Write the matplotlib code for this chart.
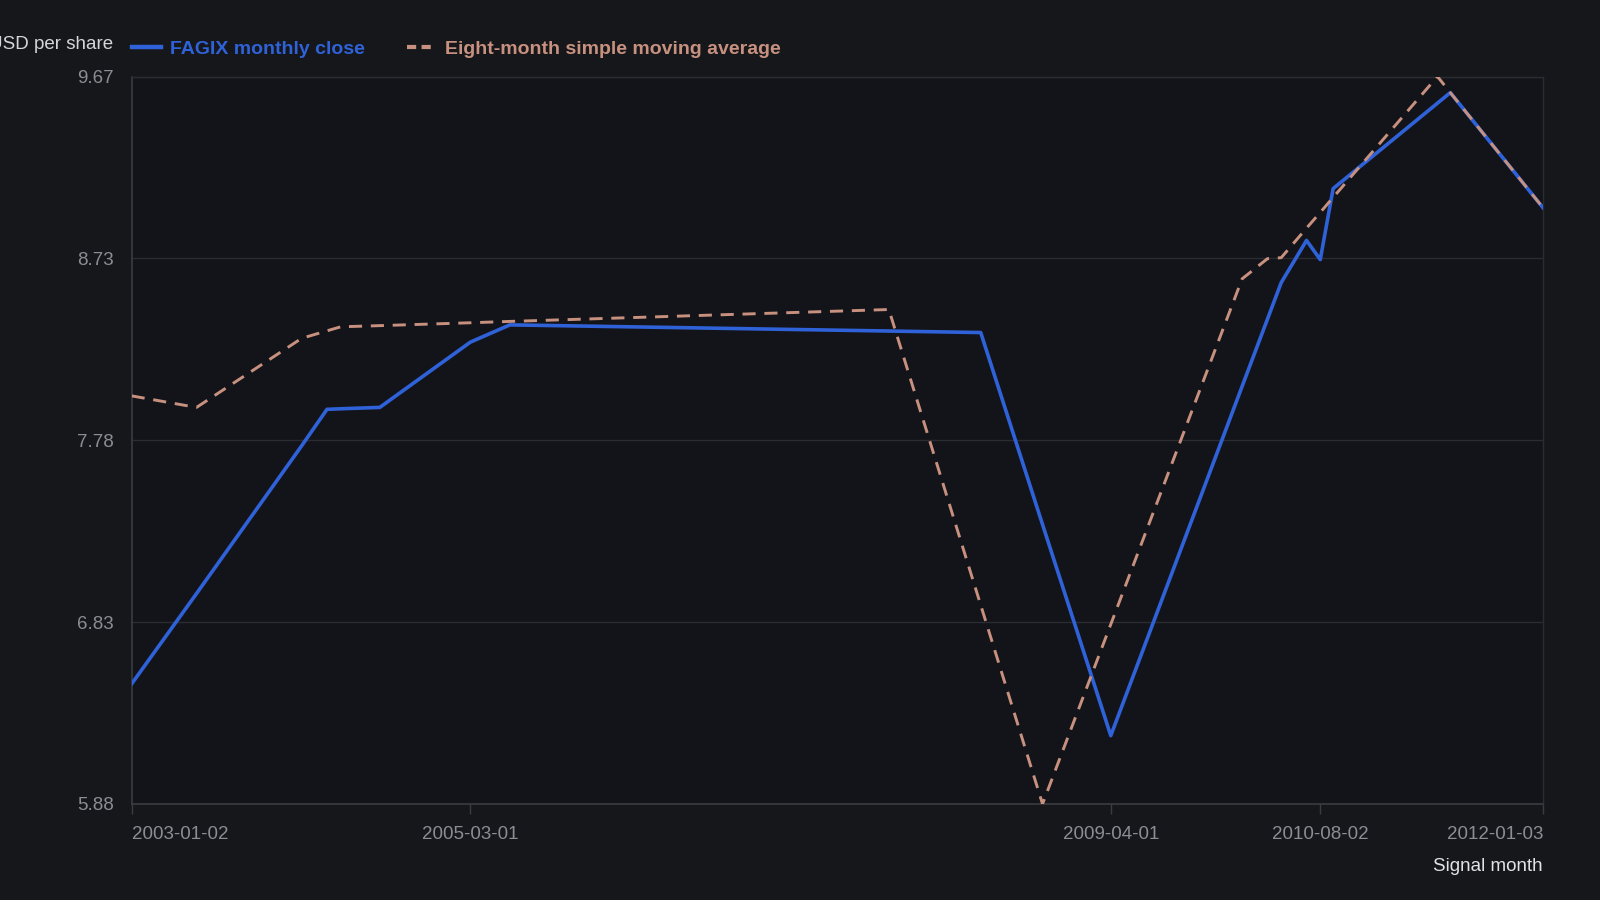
import matplotlib.pyplot as plt
import numpy as np
import pandas as pd

# values
dates = pd.to_datetime([
    "2003-01-02", "2003-06-02", "2004-02-02", "2004-04-01", "2004-05-03",
    "2004-08-02", "2005-03-01", "2005-06-01", "2007-11-01", "2008-06-02",
    "2008-10-24", "2009-04-01", "2010-02-01", "2010-04-01", "2010-05-03",
    "2010-07-01", "2010-08-02", "2010-09-01", "2011-05-02", "2011-06-01",
    "2012-01-03",
])
close = [6.51, 6.98, 7.75, 7.94, 7.943, 7.95, 8.29, 8.38, 8.348, 8.34,
         7.34, 6.24, 8.06, 8.41, 8.60, 8.82, 8.72, 9.09, 9.535, 9.59, 8.99]
sma8 = [8.01, 7.95, 8.31, 8.349, 8.37, 8.376, 8.391, 8.398, 8.46, 6.92,
        5.884, 6.82, 8.62, 8.725, 8.73, 8.884, 8.966, 9.044, 9.674, 9.59, 8.99]
tick_dates = pd.to_datetime(["2003-01-02", "2005-03-01", "2009-04-01",
                             "2010-08-02", "2012-01-03"])

bg = "#16171b"
plot_bg = "#131419"
blue = "#2f62d8"
orange = "#c8917f"
tick_col = "#8a8d93"
grid_col = "#2a2c31"

plt.rcParams['font.family'] = ['Liberation Sans', 'DejaVu Sans']

fig = plt.figure(figsize=(16, 9), dpi=100, facecolor=bg)
ax = fig.add_axes([0.0823, 0.1067, 0.9644 - 0.0823, 0.915 - 0.1067])
ax.set_facecolor(plot_bg)

ax.plot(dates, close, color=blue, lw=2.6, label="FAGIX monthly close", zorder=3)
ax.plot(dates, sma8, color=orange, lw=2.1, dashes=(4.5, 3),
        label="Eight-month simple moving average", zorder=4)

ymin = min(min(close), min(sma8))
ymax = max(max(close), max(sma8))
ax.set_ylim(ymin, ymax)
ax.set_xlim(dates[0], dates[-1])

yt = np.linspace(ymin, ymax, 5)
ax.set_yticks(yt)
ax.set_yticklabels([f"{v:.2f}" for v in yt])
ax.set_xticks(tick_dates)
ax.set_xticklabels([d.strftime("%Y-%m-%d") for d in tick_dates])
xlabels = ax.get_xticklabels()
xlabels[0].set_ha("left")
xlabels[-1].set_ha("right")

ax.grid(axis="y", color=grid_col, lw=1)
ax.tick_params(axis="y", length=0, pad=13, labelsize=13.5, labelcolor=tick_col)
ax.tick_params(axis="x", length=7, width=1, color="#3a3c42", pad=9,
               labelsize=13.5, labelcolor=tick_col)
for side in ["left", "bottom"]:
    ax.spines[side].set_color("#3a3c42")
    ax.spines[side].set_linewidth(1.2)
for side in ["top", "right"]:
    ax.spines[side].set_color(grid_col)
    ax.spines[side].set_linewidth(1)

# legend and labels
leg = ax.legend(loc="lower left", bbox_to_anchor=(0, 1.026), ncol=2, frameon=False,
                borderaxespad=0, borderpad=0, handlelength=1.5, handletextpad=0.45,
                columnspacing=2.2, labelcolor="linecolor",
                prop={"weight": "bold", "size": 14})
leg_lines = leg.get_lines()
leg_lines[0].set_linewidth(3.2)
leg_lines[1].set_linewidth(3.0)
leg_lines[1].set_dashes((2.2, 1.3))
fig.text(0.0706, 0.951, "USD per share", ha="right", va="center",
         fontsize=13.5, color="#d4d6da")
fig.text(0.9644, 0.0367, "Signal month", ha="right", va="center",
         fontsize=13.5, color="#e2e3e6")

fig.savefig("out.png", dpi=100, facecolor=bg)
